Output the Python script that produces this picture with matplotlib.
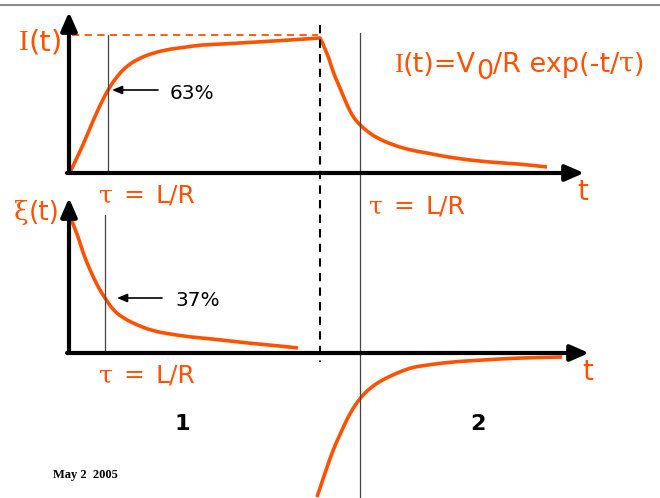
import matplotlib

matplotlib.use("Agg")
import matplotlib.pyplot as plt
from matplotlib.patches import PathPatch
from matplotlib.path import Path

ORANGE = "#ff5200"

# curve points (pixel coordinates, y grows downwards)
rise_x = [70, 80, 90, 100, 109, 118, 128, 140, 153, 170, 187, 200, 223, 257, 290, 320]
rise_y = [172, 152, 128, 105, 88, 75, 65, 58, 53, 49, 47, 45, 44, 42, 40, 38]
fall_x = [321, 327, 333, 340, 347, 353, 360, 368, 377, 393, 410, 427, 453, 487, 520, 547]
fall_y = [38, 52, 72, 88, 105, 117, 125, 132, 138, 145, 150, 153, 158, 162, 164, 167]
emf_x = [71, 77, 83, 90, 98, 105, 113, 123, 137, 153, 170, 190, 213, 247, 280, 298]
emf_y = [219, 233, 253, 270, 287, 298, 310, 318, 325, 331, 334, 337, 339, 343, 346, 348]
neg_x = [317, 325, 333, 342, 350, 360, 370, 382, 397, 410, 420, 450, 483, 517, 562]
neg_y = [497, 473, 450, 430, 413, 398, 388, 380, 373, 368, 366, 362, 360, 358, 357]

W, H = 660, 498
fig = plt.figure(figsize=(W / 100, H / 100), dpi=100)
ax = fig.add_axes([0, 0, 1, 1])
ax.set_xlim(0, W)
ax.set_ylim(H, 0)
ax.axis("off")
renderer = fig.canvas.get_renderer()


def axis_arrow(x0, y0, x1, y1):
    ax.annotate("", xy=(x1, y1), xytext=(x0, y0),
                arrowprops=dict(arrowstyle="-|>,head_length=0.8,head_width=0.35",
                                lw=3, color="black", shrinkA=0, shrinkB=0,
                                mutation_scale=14))


def pointer(x0, x1, y):
    ax.annotate("", xy=(x1, y), xytext=(x0, y),
                arrowprops=dict(arrowstyle="-|>,head_length=0.6,head_width=0.25",
                                lw=1.2, color="black", shrinkA=0, shrinkB=0,
                                mutation_scale=10))


def smooth_curve(xs, ys, corner=None):
    # quadratic bezier through midpoints, read points act as control points
    pts = list(zip(xs, ys))
    verts, codes = [pts[0]], [Path.MOVETO]
    for i in range(1, len(pts) - 1):
        if corner is not None and i == corner:
            verts.append(pts[i])
            codes.append(Path.LINETO)
            continue
        mid = ((pts[i][0] + pts[i + 1][0]) / 2, (pts[i][1] + pts[i + 1][1]) / 2)
        verts += [pts[i], mid]
        codes += [Path.CURVE3, Path.CURVE3]
    verts.append(pts[-1])
    codes.append(Path.LINETO)
    ax.add_patch(PathPatch(Path(verts, codes), fill=False, edgecolor=ORANGE,
                           lw=2.6, capstyle="butt", joinstyle="round"))


def chain(x, y, pieces, size, color=ORANGE):
    # lay text pieces one after another on a common baseline
    for s, fam, dy, gap in pieces:
        t = ax.text(x, y + dy, s, fontsize=size, family=fam, color=color,
                    va="baseline", ha="left")
        x += t.get_window_extent(renderer).width + gap


# frame line on top of slide
ax.plot([0, W], [5, 5], color="#8c8c8c", lw=1.5)

# axes
axis_arrow(69, 173, 69, 12)
axis_arrow(67, 173, 584, 173)
axis_arrow(69, 353, 69, 198)
axis_arrow(67, 353, 589, 353)

# guides
ax.plot([72, 318], [35, 35], color=ORANGE, lw=1.3, ls=(0, (4, 3)))
ax.plot([320, 320], [25, 362], color="black", lw=1.5, ls=(0, (4, 3)))
ax.plot([108, 108], [35, 173], color="#444444", lw=0.9)
ax.plot([105, 105], [215, 353], color="#444444", lw=0.9)
ax.plot([360, 360], [33, H], color="#444444", lw=0.9)

# curves
smooth_curve(rise_x + fall_x[1:], rise_y + fall_y[1:], corner=len(rise_x) - 1)
smooth_curve(emf_x, emf_y)
smooth_curve(neg_x, neg_y)

pointer(158, 112, 90)
pointer(162, 117, 298)
ax.text(170, 93, "63%", fontsize=14.5, va="center", color="black")
ax.text(175, 300, "37%", fontsize=14.5, va="center", color="black")

# labels
chain(19, 50, [("I", "Liberation Serif", 0, 0), ("(t)", "DejaVu Sans", 0, 0)], 21)
chain(14, 220, [("ξ", "DejaVu Serif", 0, 0), ("(t)", "DejaVu Sans", 0, 0)], 19)
for x, y in [(99, 202), (369, 213), (99, 382)]:
    chain(x, y, [("τ", "DejaVu Serif", 0, 3), (" = ", "DejaVu Sans", 0, 3),
                 ("L/R", "DejaVu Sans", 0, 0)], 18)
ax.text(583, 200, "t", fontsize=20, color=ORANGE, va="baseline", ha="center")
ax.text(588, 380, "t", fontsize=20, color=ORANGE, va="baseline", ha="center")
chain(394, 72, [("I", "Liberation Serif", 0, 0), ("(t)=V", "DejaVu Sans", 0, 0),
                ("0", "DejaVu Sans", 7, 0), ("/R exp(-t/", "DejaVu Sans", 0, 0),
                ("τ", "DejaVu Serif", 0, 0), (")", "DejaVu Sans", 0, 0)], 19.5)

ax.text(182, 424, "1", fontsize=16, weight="bold", ha="center", va="center")
ax.text(478, 424, "2", fontsize=16, weight="bold", ha="center", va="center")
ax.text(53, 478, "May 2  2005", fontsize=9, weight="bold", family="Liberation Serif",
        va="baseline")

fig.savefig("out.png", dpi=100)
